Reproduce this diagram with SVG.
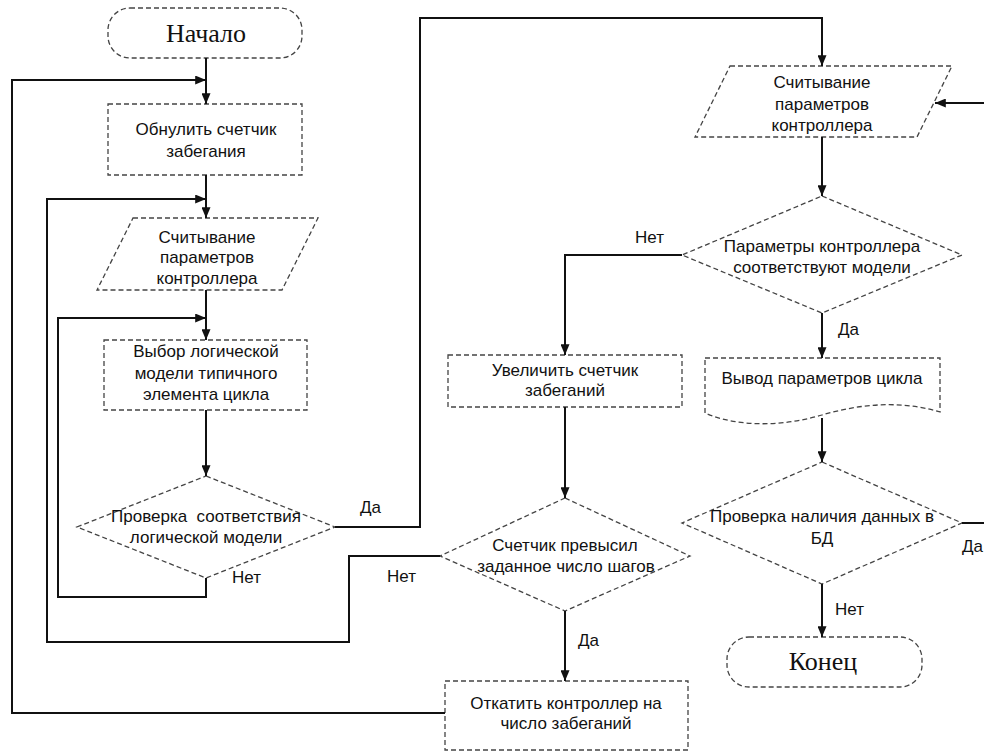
<svg xmlns="http://www.w3.org/2000/svg" width="984" height="753" viewBox="0 0 984 753">
<defs>
<marker id="arr" viewBox="0 0 12 10" refX="12" refY="5" markerWidth="12" markerHeight="9" markerUnits="userSpaceOnUse" orient="auto">
<path d="M0,0 L12,5 L0,10 z" fill="#111"/>
</marker>
</defs>
<style>
.sh{fill:none;stroke:#444;stroke-width:1.3;stroke-dasharray:5 3}
.t{font-family:"Liberation Sans",Arial,sans-serif;font-size:17px;fill:#111;text-anchor:middle}
.lb{font-family:"Liberation Sans",Arial,sans-serif;font-size:17px;fill:#111}
.ts{font-family:"Liberation Serif","Times New Roman",serif;font-size:26px;fill:#111;text-anchor:middle}
.c{fill:none;stroke:#111;stroke-width:2}
.ca{fill:none;stroke:#111;stroke-width:2;marker-end:url(#arr)}
</style>
<rect width="984" height="753" fill="#fff"/>

<g id="start">
<rect class="sh" x="108" y="8" width="194" height="50" rx="22"/>
<text class="ts" x="206" y="42">Начало</text>
</g>
<g id="reset">
<rect class="sh" x="108" y="104" width="194" height="71"/>
<text class="t" x="206" y="135">Обнулить счетчик</text>
<text class="t" x="206" y="157">забегания</text>
</g>
<g id="read1">
<polygon class="sh" points="133,218 318,218 282,290 97,290"/>
<text class="t" x="207" y="243">Считывание</text>
<text class="t" x="207" y="263">параметров</text>
<text class="t" x="207" y="284">контроллера</text>
</g>
<g id="select">
<rect class="sh" x="104" y="340" width="203" height="70"/>
<text class="t" x="206" y="357">Выбор логической</text>
<text class="t" x="206" y="379">модели типичного</text>
<text class="t" x="206" y="400">элемента цикла</text>
</g>
<g id="check1">
<polygon class="sh" points="206,476 335,527 206,578 77,527"/>
<text class="t" x="206" y="522" xml:space="preserve">Проверка  соответствия</text>
<text class="t" x="206" y="543">логической модели</text>
</g>
<g id="read2">
<polygon class="sh" points="730,66 952,66 917,137 695,137"/>
<text class="t" x="822" y="88">Считывание</text>
<text class="t" x="822" y="110">параметров</text>
<text class="t" x="822" y="131">контроллера</text>
</g>
<g id="check2">
<polygon class="sh" points="822,196 962,255 822,313 682,255"/>
<text class="t" x="822" y="252">Параметры контроллера</text>
<text class="t" x="822" y="273">соответствуют модели</text>
</g>
<g id="inc">
<rect class="sh" x="448" y="355" width="234" height="52"/>
<text class="t" x="565" y="376">Увеличить счетчик</text>
<text class="t" x="565" y="396">забеганий</text>
</g>
<g id="output">
<path class="sh" d="M705,358 H940 V412 C900,400 860,404 822,415 C785,426 740,428 705,413 Z"/>
<text class="t" x="822" y="384">Вывод параметров цикла</text>
</g>
<g id="check3">
<polygon class="sh" points="822,462 962,523 822,584 682,523"/>
<text class="t" x="822" y="522">Проверка наличия данных в</text>
<text class="t" x="822" y="544">БД</text>
</g>
<g id="check4">
<polygon class="sh" points="565,498 690,556 565,611 440,556"/>
<text class="t" x="565" y="551">Счетчик превысил</text>
<text class="t" x="566" y="572">заданное число шагов</text>
</g>
<g id="rollback">
<rect class="sh" x="445" y="681" width="243" height="69"/>
<text class="t" x="566" y="709">Откатить контроллер на</text>
<text class="t" x="566" y="729">число забеганий</text>
</g>
<g id="end">
<rect class="sh" x="727" y="637" width="195" height="50" rx="22"/>
<text class="ts" x="823" y="670">Конец</text>
</g>

<g id="connectors">
<path class="ca" d="M206,58 V104"/>
<path class="ca" d="M206,175 V218"/>
<path class="ca" d="M206,290 V340"/>
<path class="ca" d="M206,410 V476"/>
<path class="ca" d="M335,527 H420 V18 H822 V66"/>
<path class="ca" d="M206,578 V597 H58 V318 H206"/>
<path class="ca" d="M822,137 V196"/>
<path class="ca" d="M682,255 H565 V355"/>
<path class="ca" d="M822,313 V358"/>
<path class="ca" d="M822,418 V462"/>
<path class="ca" d="M565,407 V498"/>
<path class="ca" d="M440,556 H349 V642 H47 V199 H206"/>
<path class="ca" d="M565,611 V681"/>
<path class="ca" d="M445,713 H12 V80 H206"/>
<path class="ca" d="M822,584 V637"/>
<path class="ca" d="M962,523 H992 V103 H935"/>
</g>
<g id="labels">
<text class="lb" x="360" y="513">Да</text>
<text class="lb" x="232" y="583">Нет</text>
<text class="lb" x="635" y="243">Нет</text>
<text class="lb" x="838" y="335">Да</text>
<text class="lb" x="387" y="582">Нет</text>
<text class="lb" x="578" y="646">Да</text>
<text class="lb" x="835" y="615">Нет</text>
<text class="lb" x="962" y="552">Да</text>
</g>
</svg>
